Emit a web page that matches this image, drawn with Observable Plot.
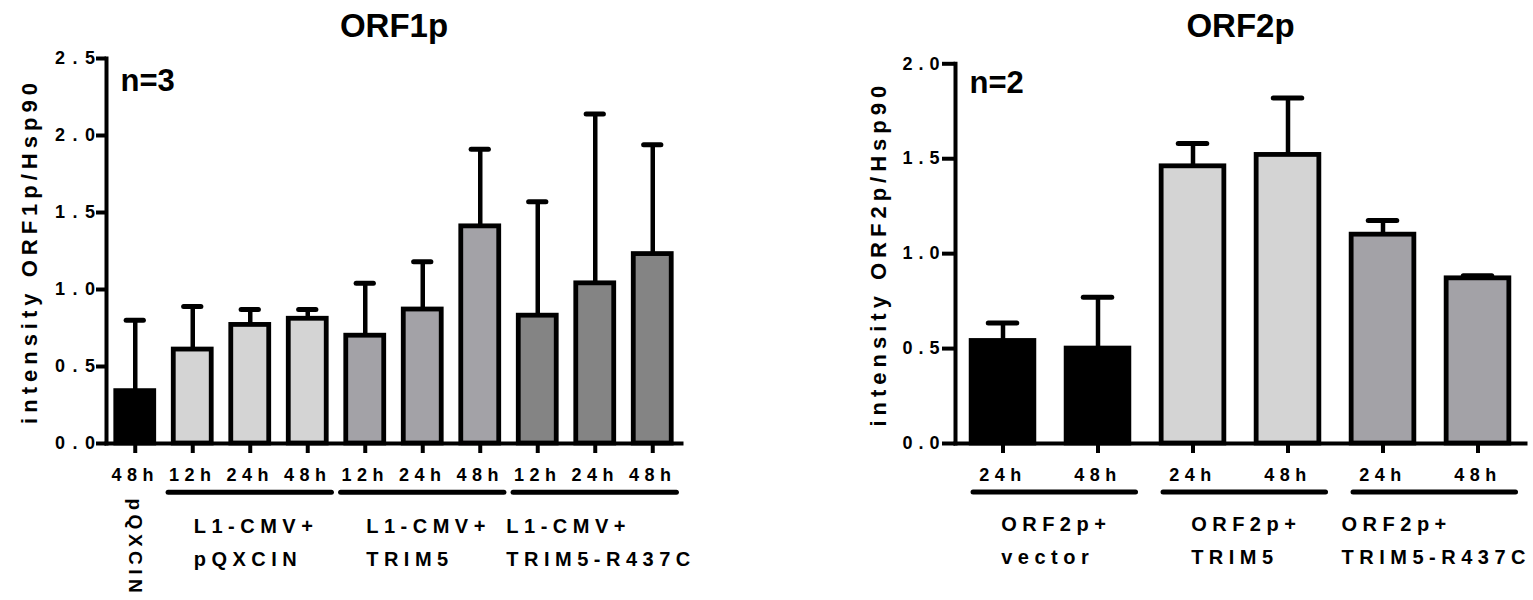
<!DOCTYPE html>
<html><head><meta charset="utf-8">
<script src="https://cdn.jsdelivr.net/npm/d3@7"></script>
<script src="https://cdn.jsdelivr.net/npm/@observablehq/plot@0.6"></script>
<style>
html,body{margin:0;padding:0;background:#fff;overflow:hidden}
#wrap{display:flex;width:1533px;height:600px}
#c1{width:760px;flex:none}#c2{width:773px;flex:none}
svg{font-family:"Liberation Sans",Arial,Helvetica,sans-serif;font-weight:bold}
svg text{letter-spacing:5.5px}
g[aria-description="title"] text{letter-spacing:0}
g[aria-description="ylabel"] text{letter-spacing:5px}
g[aria-description="vlabel"] text{letter-spacing:4.5px}
g[aria-label="y-axis tick label"]{font-size:18px}
g[aria-label="x-axis tick label"]{font-size:18px}
#c1 g[aria-label="y-axis tick label"] text{letter-spacing:7.5px}
#c2 g[aria-label="y-axis tick label"] text{letter-spacing:6px}
</style>
</head><body>
<div id="wrap"><div id="c1"></div><div id="c2"></div></div>
<script>
// ---- ORF1p data ----
const orf1Title = "ORF1p";
const orf1N = "n=3";
const orf1YLabel = "intensity ORF1p/Hsp90";
const orf1GroupLabels = ["pQXCIN", "L1-CMV+\npQXCIN", "L1-CMV+\nTRIM5", "L1-CMV+\nTRIM5-R437C"];
const orf1GroupOf = [0, 1, 1, 1, 2, 2, 2, 3, 3, 3];
const orf1Time = ["48h", "12h", "24h", "48h", "12h", "24h", "48h", "12h", "24h", "48h"];
const orf1Mean = [0.34, 0.61, 0.77, 0.81, 0.70, 0.87, 1.41, 0.83, 1.04, 1.23];
const orf1SD   = [0.46, 0.28, 0.10, 0.06, 0.34, 0.31, 0.50, 0.74, 1.10, 0.71];
const orf1YTicks = [0, 0.5, 1.0, 1.5, 2.0, 2.5];

// ---- ORF2p data ----
const orf2Title = "ORF2p";
const orf2N = "n=2";
const orf2YLabel = "intensity ORF2p/Hsp90";
const orf2GroupLabels = ["ORF2p+\nvector", "ORF2p+\nTRIM5", "ORF2p+\nTRIM5-R437C"];
const orf2GroupOf = [0, 0, 1, 1, 2, 2];
const orf2Time = ["24h", "48h", "24h", "48h", "24h", "48h"];
const orf2Mean = [0.54, 0.50, 1.46, 1.52, 1.10, 0.87];
const orf2SD   = [0.095, 0.27, 0.12, 0.30, 0.074, 0.013];
const orf2YTicks = [0, 0.5, 1.0, 1.5, 2.0];

const ctx = document.createElement("canvas").getContext("2d");
function textWidth(str, size, ls) {
  ctx.font = `bold ${size}px "Liberation Sans", Arial, sans-serif`;
  return d3.max(str.split("\n"), s => ctx.measureText(s).width + (s.length - 1) * ls);
}

function chart(o) {
  const bars = o.mean.map((m, i) => ({i, mean: m, top: m + o.sd[i], g: o.groupOf[i]}));
  const groups = o.groupLabels.map((label, g) => {
    const idx = bars.filter(b => b.g === g).map(b => b.i);
    return {g, label, first: d3.min(idx), last: d3.max(idx), center: d3.mean(idx)};
  });
  const n = bars.length;
  const lined = groups.filter(d => !(o.verticalFirst && d.g === 0));
  const labelMarks = lined.map(d => Plot.text([d.label], {
    x: () => d.center, y: () => 0, dx: -textWidth(d.label, 20, 5.5) / 2 + 3, dy: o.textDy,
    textAnchor: "start", lineAnchor: "top", lineHeight: 1.67, fontSize: 20
  }));
  if (o.verticalFirst) {
    const d = groups[0];
    labelMarks.push(Plot.text([d.label], {x: () => d.center, y: () => 0, dy: 55, rotate: 90,
      textAnchor: "start", lineAnchor: "middle", fontSize: 19, ariaDescription: "vlabel"}));
  }
  return Plot.plot({
    width: o.width, height: 600,
    marginLeft: o.marginLeft, marginRight: o.marginRight, marginTop: o.marginTop, marginBottom: 157,
    x: {type: "linear", domain: [-0.5, n - 0.5], axis: null},
    y: {domain: [0, o.ymax], axis: null},
    color: {type: "ordinal", domain: d3.range(o.fills.length), range: o.fills},
    style: {overflow: "visible", background: "white"},
    marks: [
      Plot.rect(bars, {x1: d => d.i - 0.33, x2: d => d.i + 0.33, y1: () => 0, y2: "mean",
        fill: "g", stroke: "#000", strokeWidth: 4.8}),
      Plot.ruleX(bars, {x: "i", y1: "mean", y2: "top", stroke: "#000", strokeWidth: 4.5}),
      Plot.ruleY(bars, {y: "top", x1: d => d.i - 0.15, x2: d => d.i + 0.15, stroke: "#000",
        strokeWidth: 5, strokeLinecap: "round"}),
      Plot.frame({anchor: "left", stroke: "#000", strokeWidth: 4}),
      Plot.frame({anchor: "bottom", stroke: "#000", strokeWidth: 4}),
      Plot.axisY({ticks: o.yTicks, tickFormat: d3.format(".1f"), tickSize: o.yTickSize, label: null,
        tickPadding: o.yTickPad, fontSize: 18, strokeWidth: 4, stroke: "#000", fill: "#000"}),
      Plot.axisX({ticks: d3.range(n), tickFormat: i => o.time[i], tickSize: 10, tickPadding: 15, label: null,
        fontSize: 18, strokeWidth: 4, stroke: "#000", fill: "#000"}),
      Plot.ruleY(lined, {y: () => 0, x1: d => d.first - o.lineIn[0], x2: d => d.last + o.lineIn[1],
        dy: o.lineDy, stroke: "#000", strokeWidth: 5, strokeLinecap: "round"}),
      ...labelMarks,
      Plot.text([o.title], {frameAnchor: "top", lineAnchor: "top", dy: o.titleDy, fontSize: 33, ariaDescription: "title"}),
      Plot.text([o.nLabel], {frameAnchor: "top-left", lineAnchor: "top", dx: 14, dy: o.nDy, textAnchor: "start",
        fontSize: 31, ariaDescription: "title"}),
      Plot.text([o.ylabel], {frameAnchor: "left", rotate: -90, textAnchor: "middle", lineAnchor: "middle",
        dx: -77, fontSize: 22, ariaDescription: "ylabel"})
    ]
  });
}

document.getElementById("c1").append(chart({
  width: 760, marginLeft: 106, marginRight: 79, marginTop: 58, ymax: 2.5,
  mean: orf1Mean, sd: orf1SD, groupOf: orf1GroupOf, groupLabels: orf1GroupLabels, time: orf1Time,
  yTicks: orf1YTicks, yTickSize: 10, yTickPad: -6,
  fills: ["#000000", "#d4d4d4", "#a3a2a7", "#848484"],
  verticalFirst: true, lineIn: [0.42, 0.42], lineDy: 48.7, textDy: 65.3,
  title: orf1Title, titleDy: -45, nLabel: orf1N, nDy: 10, ylabel: orf1YLabel
}));
document.getElementById("c2").append(chart({
  width: 773, marginLeft: 195, marginRight: 8, marginTop: 63.3, ymax: 2.0,
  mean: orf2Mean, sd: orf2SD, groupOf: orf2GroupOf, groupLabels: orf2GroupLabels, time: orf2Time,
  yTicks: orf2YTicks, yTickSize: 13, yTickPad: -3,
  fills: ["#000000", "#d4d4d4", "#a3a2a7"],
  verticalFirst: false, lineIn: [0.31, 0.40], lineDy: 48.4, textDy: 63.4,
  title: orf2Title, titleDy: -50, nLabel: orf2N, nDy: 6.7, ylabel: orf2YLabel
}));
</script>
</body></html>
